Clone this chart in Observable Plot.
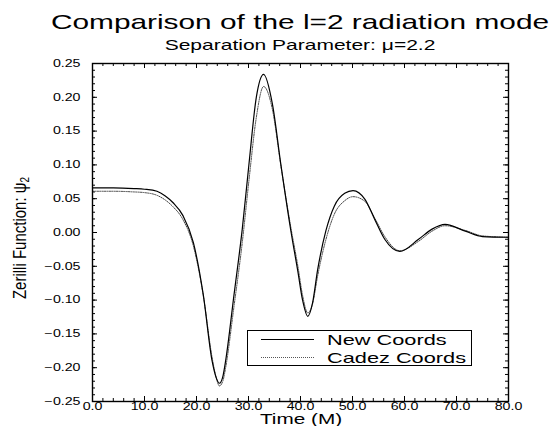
<!DOCTYPE html>
<html>
<head>
<meta charset="utf-8">
<script src="https://cdn.jsdelivr.net/npm/d3@7"></script>
<script src="https://cdn.jsdelivr.net/npm/@observablehq/plot@0.6"></script>
<style>
  html, body { margin: 0; padding: 0; background: #fff; }
  #wrap { position: relative; width: 550px; height: 426px; overflow: hidden; font-family: "Liberation Sans", Arial, Helvetica, sans-serif; color: #000; }
  .abs { position: absolute; white-space: nowrap; line-height: 1; }
  #title { left: 300px; top: 11px; font-size: 21px; transform: translateX(-50%) scaleX(1.42); }
  #subtitle { left: 300px; top: 37px; font-size: 15px; transform: translateX(-50%) scaleX(1.40); }
  #xlabel { left: 301px; top: 412px; font-size: 14px; transform: translateX(-50%) scaleX(1.48); }
  #ylabel { left: 21px; top: 238px; font-size: 15px; transform: translate(-50%, -50%) rotate(-90deg) scale(1, 1.2); }
  #ylabel sub { font-size: 10px; vertical-align: -3px; }
  #legend { left: 247px; top: 330px; width: 223px; height: 34px; border: 1px solid #000; background: #fff; }
  .lline { position: absolute; left: 13px; width: 53px; height: 0; }
  .ltext { position: absolute; left: 79px; font-size: 15px; transform-origin: left center; transform: scaleX(1.45); line-height: 1; }
</style>
</head>
<body>
<div id="wrap">
  <div id="chart" class="abs" style="left:0;top:0"></div>
  <div id="title" class="abs">Comparison of the l=2 radiation mode</div>
  <div id="subtitle" class="abs">Separation Parameter: μ=2.2</div>
  <div id="xlabel" class="abs">Time (M)</div>
  <div id="ylabel" class="abs">Zerilli Function: ψ<sub>2</sub></div>
  <div id="legend" class="abs"></div>
</div>
<script>
// ---- data ----
const time = [0, 4, 8, 10, 12.4, 14, 15.5, 17.4, 19.4, 21.3, 23, 23.8, 24.4, 25.1, 25.6, 27.2, 28.8, 30.1, 31.5, 32.9, 34.6, 36.2, 38.2, 39.5, 40.4, 41.4, 42.3, 43.3, 44.9, 46.5, 48.5, 50.1, 52.4, 54.3, 56.2, 59.1, 62.7, 65.3, 67.8, 71.7, 75, 80];
const newCoords = [0.066, 0.066, 0.065, 0.064, 0.061, 0.054, 0.044, 0.025, -0.015, -0.092, -0.190, -0.215, -0.223, -0.212, -0.190, -0.093, 0.005, 0.102, 0.200, 0.234, 0.190, 0.102, 0.000, -0.058, -0.100, -0.124, -0.105, -0.055, 0.003, 0.039, 0.058, 0.062, 0.049, 0.019, -0.010, -0.028, -0.010, 0.005, 0.012, 0.002, -0.006, -0.007];
const cadezCoords = [0.061, 0.061, 0.060, 0.059, 0.055, 0.048, 0.038, 0.019, -0.020, -0.093, -0.185, -0.215, -0.227, -0.219, -0.200, -0.110, -0.015, 0.078, 0.170, 0.216, 0.182, 0.100, 0.005, -0.050, -0.093, -0.119, -0.106, -0.064, -0.010, 0.027, 0.047, 0.053, 0.046, 0.021, -0.006, -0.027, -0.013, 0.002, 0.010, 0.003, -0.005, -0.007];
const seriesNames = ["New Coords", "Cadez Coords"];
const xTicks = [0, 10, 20, 30, 40, 50, 60, 70, 80];
const yTicks = [-0.25, -0.20, -0.15, -0.10, -0.05, 0.00, 0.05, 0.10, 0.15, 0.20, 0.25];
const xMinor = d3.range(0, 80.001, 2);
const yMinor = d3.range(-25, 25.001, 1).map(d => d / 100);

// ---- table for Plot ----
const rows = [];
time.forEach((t, i) => {
  rows.push({t, v: newCoords[i], s: seriesNames[0]});
  rows.push({t, v: cadezCoords[i], s: seriesNames[1]});
});

const W = 550, H = 426, mt = 63, mb = 25, ml = 92, mr = 42;
const ph = H - mt - mb, pw = W - ml - mr;
const majorLen = 5, minorLen = 3;

const plot = Plot.plot({
  width: W, height: H,
  marginTop: mt, marginBottom: mb, marginLeft: ml, marginRight: mr,
  style: {fontFamily: "'Liberation Sans', Arial, sans-serif", fontSize: "10px", color: "#000", background: "transparent"},
  x: {domain: [0, 80]},
  y: {domain: [-0.25, 0.25]},
  marks: [
    Plot.axisX(xTicks, {tickSize: 0, tickPadding: 1, tickFormat: d3.format(".1f"), label: null}),
    Plot.axisY(yTicks, {tickSize: 0, tickPadding: 12, tickFormat: d3.format(".2f"), label: null}),
    // inward ticks on all four sides
    Plot.ruleX(xMinor, {x: d => d, insetTop: ph - minorLen, stroke: "#000"}),
    Plot.ruleX(xMinor, {x: d => d, insetBottom: ph - minorLen, stroke: "#000"}),
    Plot.ruleX(xTicks, {x: d => d, insetTop: ph - majorLen, stroke: "#000"}),
    Plot.ruleX(xTicks, {x: d => d, insetBottom: ph - majorLen, stroke: "#000"}),
    Plot.ruleY(yMinor, {y: d => d, insetRight: pw - minorLen, stroke: "#000"}),
    Plot.ruleY(yMinor, {y: d => d, insetLeft: pw - minorLen, stroke: "#000"}),
    Plot.ruleY(yTicks, {y: d => d, insetRight: pw - majorLen, stroke: "#000"}),
    Plot.ruleY(yTicks, {y: d => d, insetLeft: pw - majorLen, stroke: "#000"}),
    Plot.line(rows.filter(d => d.s === seriesNames[1]), {x: "t", y: "v", stroke: "#444", strokeWidth: 1, strokeDasharray: "1.2,1.2", curve: "monotone-x"}),
    Plot.line(rows.filter(d => d.s === seriesNames[0]), {x: "t", y: "v", stroke: "#000", strokeWidth: 1.2, curve: "monotone-x"}),
    Plot.frame({stroke: "#000", strokeWidth: 1.4})
  ]
});

// stretch tick label glyphs horizontally (the reference text is wide)
plot.querySelectorAll("g[aria-label$='tick label'] text").forEach(el => {
  const x = parseFloat(el.getAttribute("x")) || 0;
  const tr = el.getAttribute("transform") || "";
  el.setAttribute("transform", `${tr} translate(${x},0) scale(1.42,1) translate(${-x},0)`);
});
document.getElementById("chart").appendChild(plot);

// legend built from the series names
const legend = document.getElementById("legend");
const styles = ["1.2px solid #000", "1.2px dotted #555"];
seriesNames.forEach((name, i) => {
  const cy = 8 + i * 18;
  const ln = document.createElement("div");
  ln.className = "lline";
  ln.style.top = cy + "px";
  ln.style.borderTop = styles[i];
  legend.appendChild(ln);
  const tx = document.createElement("div");
  tx.className = "ltext";
  tx.style.top = (cy - 7) + "px";
  tx.textContent = name;
  legend.appendChild(tx);
});
</script>
</body>
</html>
